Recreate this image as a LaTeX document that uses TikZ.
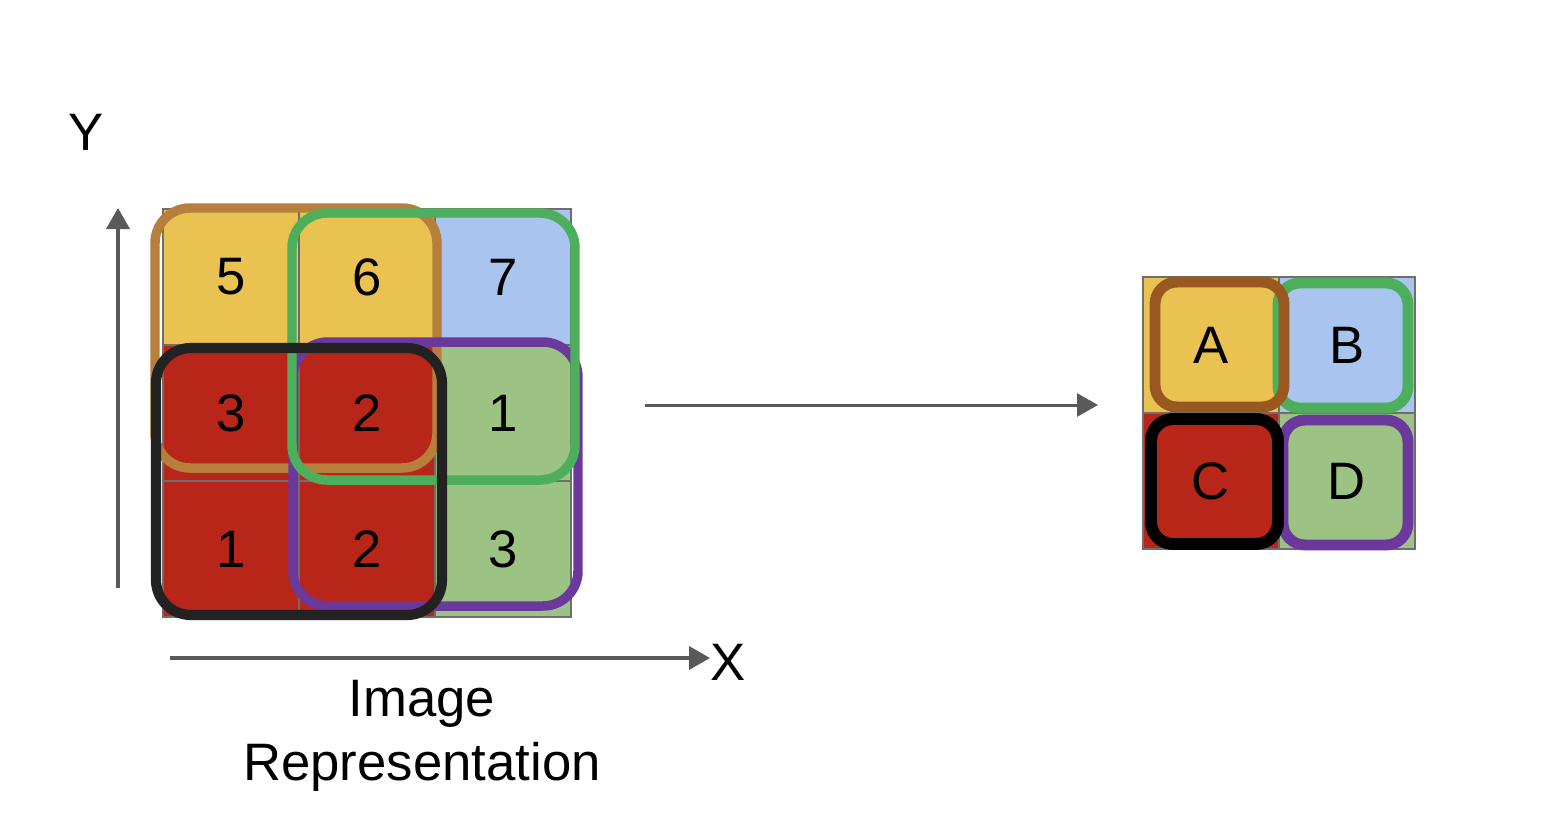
\documentclass[tikz,border=0pt]{standalone}
\usepackage{fontspec}
\setmainfont{Liberation Sans}
\usetikzlibrary{arrows.meta}
\usetikzlibrary{positioning}

\definecolor{cellyellow}{HTML}{E9C252}
\definecolor{cellblue}{HTML}{A9C4EE}
\definecolor{cellred}{HTML}{B8261A}
\definecolor{cellgreen}{HTML}{9DC384}
\definecolor{gridgray}{HTML}{6E6E6E}
\definecolor{arrowgray}{HTML}{595959}
\definecolor{poolbrown}{HTML}{B67F3C}
\definecolor{darkbrown}{HTML}{98581F}
\definecolor{poolgreen}{HTML}{4DAE5B}
\definecolor{poolpurple}{HTML}{6A399B}
\definecolor{poolblack}{HTML}{222222}

\begin{document}
\begin{tikzpicture}[x=0.02cm,y=-0.02cm,node distance=2.72cm,
    font=\fontsize{30}{36}\selectfont,
    >={Triangle[length=0.42cm,width=0.46cm]},
    cell/.style={rectangle,draw=gridgray,line width=1pt,minimum size=2.72cm,inner sep=0pt},
    pool/.style={line width=5.4pt,rounded corners=0.7cm},
    small pool/.style={line width=6.2pt,rounded corners=0.44cm},
    axis/.style={arrowgray,line width=2.2pt,->}]

  \useasboundingbox (0,0) rectangle (1546,822);

  % image representation
  \node[cell,fill=cellyellow] (a1) at (231,277) {5};
  \node[cell,fill=cellyellow] (a2) [right of=a1] {6};
  \node[cell,fill=cellblue] (a3) [right of=a2] {7};
  \node[cell,fill=cellred] (a4) [below of=a1] {3};
  \node[cell,fill=cellred] (a5) [right of=a4] {2};
  \node[cell,fill=cellgreen] (a6) [right of=a5] {1};
  \node[cell,fill=cellred] (a7) [below of=a4] {1};
  \node[cell,fill=cellred] (a8) [right of=a7] {2};
  \node[cell,fill=cellgreen] (a9) [right of=a8] {3};

  \draw[pool,poolbrown] (155,208) rectangle (437,468);
  \draw[pool,poolpurple] (293,342) rectangle (578,606);
  \draw[pool,poolgreen] (292,213) rectangle (575,480);
  \draw[pool,poolblack,line width=5.8pt] (156,348) rectangle (442,615);

  % pooled result
  \node[cell,fill=cellyellow] (b1) at (1211,345) {A};
  \node[cell,fill=cellblue] (b2) [right of=b1] {B};
  \node[cell,fill=cellred] (b3) [below of=b1] {C};
  \node[cell,fill=cellgreen] (b4) [right of=b3] {D};

  \draw[small pool,poolgreen] (1278,283) rectangle (1408,408);
  \draw[small pool,darkbrown] (1155,282) rectangle (1284,407);
  \draw[small pool,poolpurple] (1283,420) rectangle (1408,545);
  \draw[small pool,black,line width=6.8pt] (1151,419) rectangle (1278,544);

  % axes and arrow
  \coordinate (y0) at (118,588);
  \coordinate (y1) at (118,208);
  \coordinate (x0) at (170,658);
  \coordinate (x1) at (710,658);
  \coordinate (m0) at (645,405);
  \coordinate (m1) at (1098,405);
  \draw[axis] (y0) -- (y1);
  \draw[axis] (x0) -- (x1);
  \draw[axis,line width=1.7pt] (m0) -- (m1);

  \node[anchor=base] (ylab) at (86,150) {Y};
  \node[anchor=base] (xlab) at (728,680) {X};
  \node[anchor=base] (img) at (422,716) {Image};
  \node[anchor=base] (rep) at (422,780) {Representation};
\end{tikzpicture}
\end{document}
